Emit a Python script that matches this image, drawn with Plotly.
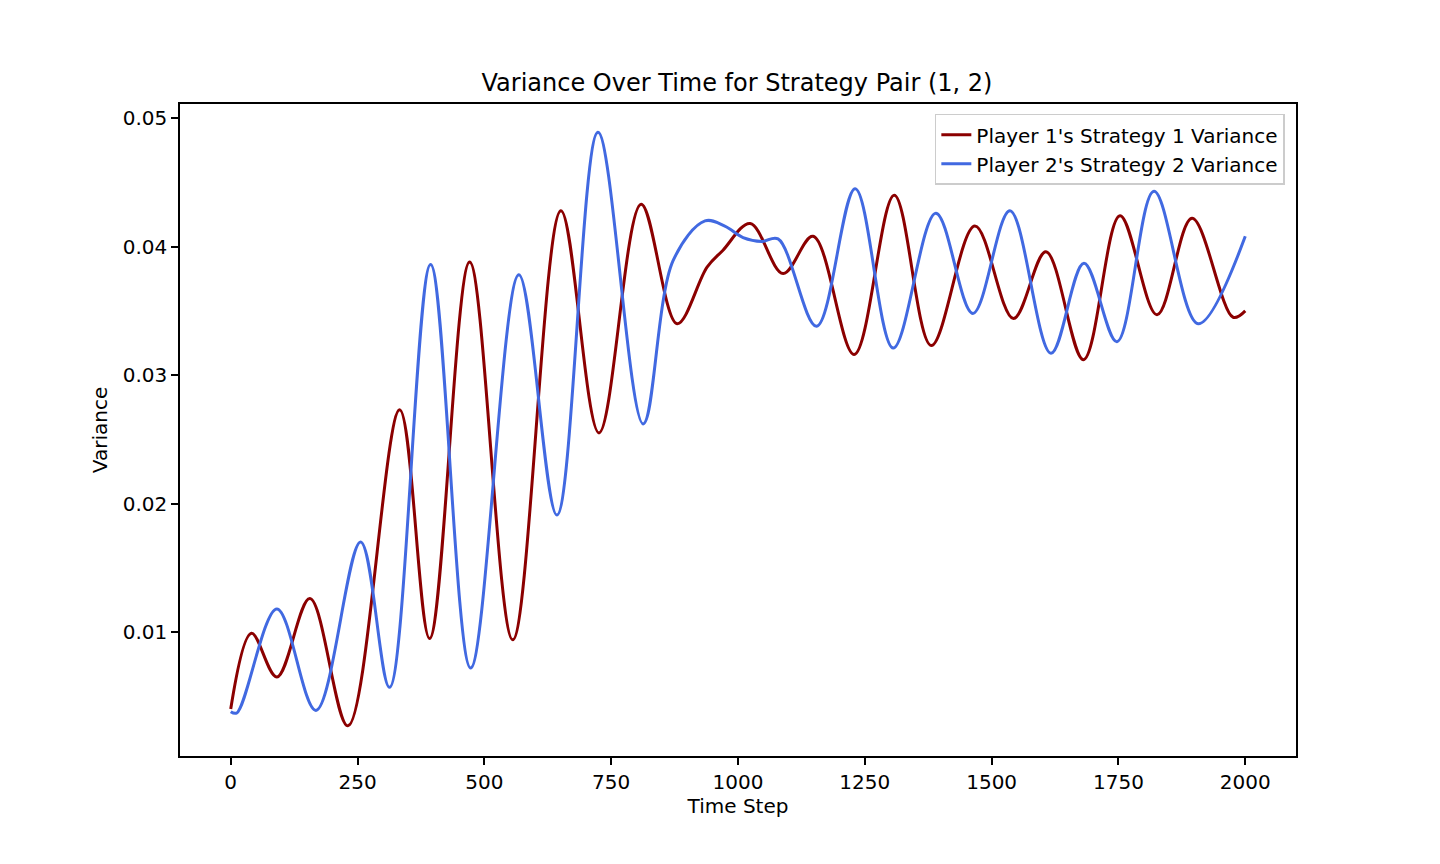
import plotly.graph_objects as go

# extrema and a few shape points
p1_t = [0, 41, 91, 156, 231, 333, 392, 471, 556, 651, 726, 809, 880, 939, 970, 1024,
        1089, 1148, 1229, 1308, 1381, 1467, 1543, 1607, 1681, 1753, 1826, 1895, 1976, 2000]
p1_v = [0.0040, 0.0099, 0.0065, 0.0126, 0.0027, 0.0273, 0.0095, 0.0388, 0.0094, 0.0428,
        0.0255, 0.0433, 0.0340, 0.0384, 0.0397, 0.0418, 0.0379, 0.0408, 0.0316, 0.0440,
        0.0323, 0.0416, 0.0344, 0.0396, 0.0312, 0.0424, 0.0347, 0.0422, 0.0345, 0.0350]

p2_t = [0, 12, 91, 168, 256, 313, 394, 473, 568, 643, 724, 813, 872, 935, 974, 1010,
        1047, 1079, 1155, 1231, 1306, 1390, 1463, 1536, 1617, 1682, 1747, 1820, 1907, 2000]
p2_v = [0.0038, 0.0037, 0.0118, 0.0039, 0.0170, 0.0057, 0.0386, 0.0072, 0.0378, 0.0191,
        0.0489, 0.0262, 0.0389, 0.0420, 0.0416, 0.0407, 0.0404, 0.0406, 0.0338, 0.0445,
        0.0321, 0.0426, 0.0348, 0.0428, 0.0317, 0.0387, 0.0326, 0.0443, 0.0340, 0.0408]

x_ticks = [0, 250, 500, 750, 1000, 1250, 1500, 1750, 2000]
y_ticks = [0.01, 0.02, 0.03, 0.04, 0.05]

fig = go.Figure()
fig.add_trace(go.Scatter(x=p1_t, y=p1_v, mode="lines", name="Player 1's Strategy 1 Variance",
                         line=dict(color="#8B0000", width=3, shape="spline", smoothing=1)))
fig.add_trace(go.Scatter(x=p2_t, y=p2_v, mode="lines", name="Player 2's Strategy 2 Variance",
                         line=dict(color="#4169E1", width=3, shape="spline", smoothing=1)))

axis_style = dict(showline=True, linecolor="black", linewidth=1.6, mirror=True,
                  ticks="outside", ticklen=7, tickcolor="black", tickwidth=1.6,
                  showgrid=False, zeroline=False,
                  tickfont=dict(size=20, color="black"))

# page body has an 8px margin, so the plot area is placed 8px up/left
fig.update_layout(
    width=1440, height=864,
    paper_bgcolor="white", plot_bgcolor="white",
    font=dict(family="DejaVu Sans", color="black"),
    margin=dict(l=172, r=152, t=96, b=116),
    title=dict(text="Variance Over Time for Strategy Pair (1, 2)", font=dict(size=24),
               x=(737 - 8) / 1440, xanchor="center", y=1 - 75 / 864, yanchor="middle"),
    xaxis=dict(axis_style, range=[-100, 2100], tickvals=x_ticks,
               title=dict(text="Time Step", font=dict(size=20), standoff=6)),
    yaxis=dict(axis_style, range=[0.00035, 0.0511], tickvals=y_ticks, tickformat=".2f",
               title=dict(text="Variance", font=dict(size=20), standoff=10)),
    legend=dict(x=0.99, y=0.985, xanchor="right", yanchor="top",
                bgcolor="rgba(255,255,255,0.8)", bordercolor="#cccccc", borderwidth=1.5,
                font=dict(size=20)),
    showlegend=True,
)

fig.write_html("out.html")
